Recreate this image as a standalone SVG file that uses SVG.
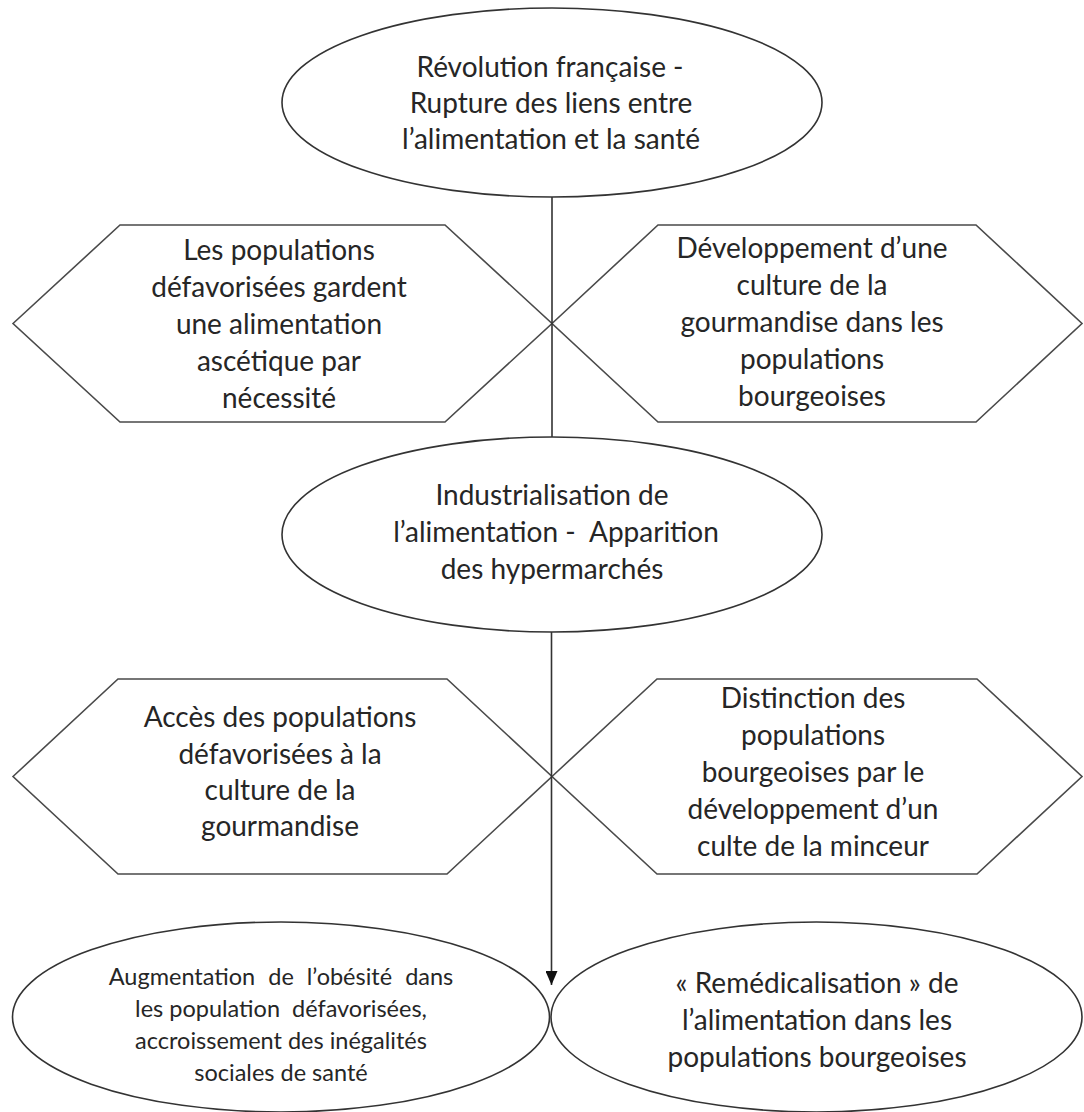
<svg xmlns="http://www.w3.org/2000/svg" width="1084" height="1112" viewBox="0 0 1084 1112">
<style>
.shape{fill:#ffffff;stroke:#333333;stroke-width:1.6}
.hex{fill:#ffffff;stroke:#4a4a4a;stroke-width:1.6}
.t{font-family:Lato,"Open Sans","Liberation Sans",sans-serif;font-size:28px;fill:#262626;text-anchor:middle}
.s{font-size:23.5px}
.conn{stroke:#333333;stroke-width:1.6;fill:none}
</style>
<defs>
<marker id="arr" viewBox="0 0 14 12" refX="14" refY="6" markerWidth="14" markerHeight="12" markerUnits="userSpaceOnUse" orient="auto">
<path d="M0,0 L14,6 L0,12 Z" fill="#111111"/>
</marker>
</defs>
<rect width="1084" height="1112" fill="#ffffff"/>
<g id="hex-top-left">
<polygon class="hex" points="13,323.5 120,225 445,225 552,323.5 445,422 120,422"/>
<text class="t" x="279" y="260">Les populations</text>
<text class="t" x="279" y="297">défavorisées gardent</text>
<text class="t" x="279" y="334">une alimentation</text>
<text class="t" x="279" y="371">ascétique par</text>
<text class="t" x="279" y="408">nécessité</text>
</g>
<g id="hex-top-right">
<polygon class="hex" points="552,323.5 658,225 976,225 1082,323.5 976,422 658,422"/>
<text class="t" x="812" y="258">Développement d’une</text>
<text class="t" x="812" y="295">culture de la</text>
<text class="t" x="812" y="332">gourmandise dans les</text>
<text class="t" x="812" y="369">populations</text>
<text class="t" x="812" y="406">bourgeoises</text>
</g>
<g id="hex-bottom-left">
<polygon class="hex" points="13,776.5 118,679 447,679 552,776.5 447,874 118,874"/>
<text class="t" x="280" y="727">Accès des populations</text>
<text class="t" x="280" y="764">défavorisées à la</text>
<text class="t" x="280" y="800">culture de la</text>
<text class="t" x="280" y="836">gourmandise</text>
</g>
<g id="hex-bottom-right">
<polygon class="hex" points="552,776.5 657,679 977,679 1082,776.5 977,874 657,874"/>
<text class="t" x="813" y="708">Distinction des</text>
<text class="t" x="813" y="745">populations</text>
<text class="t" x="813" y="782">bourgeoises par le</text>
<text class="t" x="813" y="819">développement d’un</text>
<text class="t" x="813" y="856">culte de la minceur</text>
</g>
<g id="connectors">
<line class="conn" x1="552" y1="197" x2="552" y2="437"/>
<line class="conn" x1="551.5" y1="632" x2="551.5" y2="985" marker-end="url(#arr)"/>
</g>
<g id="ellipse-top">
<ellipse class="shape" cx="552" cy="102.5" rx="270" ry="94.5"/>
<text class="t" x="550" y="77">Révolution française -</text>
<text class="t" x="551" y="113">Rupture des liens entre</text>
<text class="t" x="551" y="149">l’alimentation et la santé</text>
</g>
<g id="ellipse-middle">
<ellipse class="shape" cx="552" cy="534.5" rx="270" ry="97.5"/>
<text class="t" x="552" y="505">Industrialisation de</text>
<text class="t" x="556" y="542" xml:space="preserve">l’alimentation -  Apparition</text>
<text class="t" x="552" y="579">des hypermarchés</text>
</g>
<g id="ellipse-bottom-left">
<ellipse class="shape" cx="281" cy="1017" rx="268.5" ry="95"/>
<text class="t s" x="281" y="985" word-spacing="7">Augmentation de l’obésité dans</text>
<text class="t s" x="281" y="1017" xml:space="preserve">les population  défavorisées,</text>
<text class="t s" x="281" y="1049">accroissement des inégalités</text>
<text class="t s" x="281" y="1081">sociales de santé</text>
</g>
<g id="ellipse-bottom-right">
<ellipse class="shape" cx="816.5" cy="1017" rx="265.5" ry="95"/>
<text class="t" x="817" y="993">« Remédicalisation » de</text>
<text class="t" x="817" y="1030">l’alimentation dans les</text>
<text class="t" x="817" y="1067">populations bourgeoises</text>
</g>
</svg>
